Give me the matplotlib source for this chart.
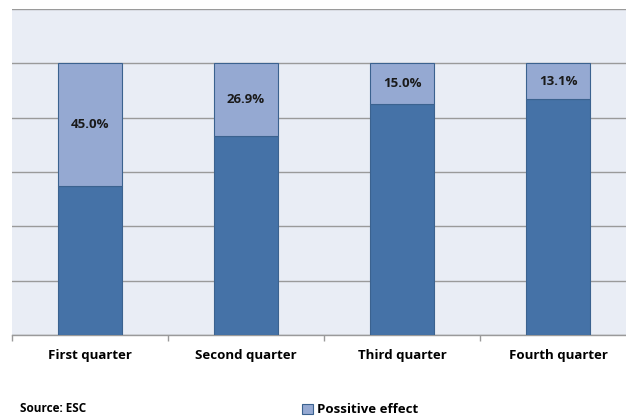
import numpy as np
import matplotlib.pyplot as plt

quarters = ["First quarter", "Second quarter", "Third quarter", "Fourth quarter"]
positive = [45.0, 26.9, 15.0, 13.1]
other = [100 - p for p in positive]

dark = "#4572A7"
light = "#95A9D2"
edge = "#3B628F"

plt.rcParams["font.family"] = ["Open Sans", "DejaVu Sans"]

fig = plt.figure(figsize=(6.26, 4.16), dpi=100)
W, H = 626, 416
# plot area in pixels: left 12, right 636 (runs past the edge), top 9, bottom 335
ax = fig.add_axes([12 / W, 1 - 335 / H, 624 / W, 326 / H])
ax.set_facecolor("#E9EDF5")

x = np.arange(len(quarters))
ax.bar(x, other, width=0.405, color=dark, edgecolor=edge, linewidth=0.8, zorder=3)
ax.bar(x, positive, bottom=other, width=0.405, color=light, edgecolor=edge,
       linewidth=0.8, zorder=3, label="Possitive effect")

for xi, b, p in zip(x, other, positive):
    ax.text(xi, b + p / 2, f"{p:.1f}%", ha="center", va="center",
            fontsize=9.5, fontweight="bold", color="#1a1a1a", zorder=4)

ax.set_xlim(-0.5, 3.5)
ax.set_ylim(0, 120)
ax.set_yticks(np.arange(0, 121, 20))
ax.yaxis.grid(True, color="#9A9A9A", linewidth=1.0, zorder=1)
ax.tick_params(axis="y", left=False, labelleft=False)

for s in ["left", "right", "top"]:
    ax.spines[s].set_visible(False)
ax.spines["bottom"].set_color("#9A9A9A")
ax.spines["bottom"].set_linewidth(1.0)

# category separators as ticks, names placed between them
ax.set_xticks(np.arange(-0.5, 4.0, 1.0))
ax.set_xticklabels([])
ax.tick_params(axis="x", direction="out", length=4, color="#9A9A9A", width=1)
ax.set_xticks(x, minor=True)
ax.set_xticklabels(quarters, minor=True, fontsize=9.5, fontweight="bold")
ax.tick_params(axis="x", which="minor", length=0, pad=10)

ax.legend(loc="upper left", bbox_to_anchor=(285 / 624, -63 / 326), frameon=False,
          prop={"weight": "bold", "size": 9.5}, handlelength=0.8,
          handleheight=0.8, handletextpad=0.3, borderaxespad=0)

fig.text(20 / W, 1 - 415 / H, "Source: ESC", fontsize=8.5, fontweight="bold",
         ha="left", va="bottom")

fig.savefig("out.png", dpi=100, facecolor="white")
